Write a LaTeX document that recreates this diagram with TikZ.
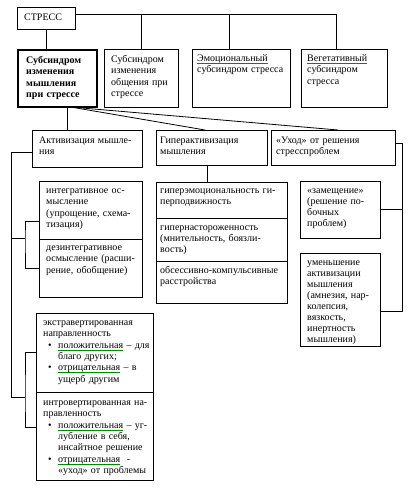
\documentclass[tikz,border=0pt]{standalone}
\usepackage{fontspec}
\setmainfont{Liberation Serif}
\usetikzlibrary{positioning, calc}

% spell-check mark and bullet lines
\newsavebox{\spellbox}
\newcommand{\spell}[1]{\sbox{\spellbox}{#1}%
	\rlap{\textcolor{green!55!black}{\raisebox{-2.2pt}{\rule{\wd\spellbox}{0.6pt}}}}\usebox{\spellbox}}
\newcommand{\bul}{\makebox[15pt][l]{\hspace{5pt}\textbullet}}
\newcommand{\cont}{\hspace*{15pt}}

\begin{document}
\begin{tikzpicture}[
		x=1pt, y=-1pt,
		frame/.style={draw, line width=0.8pt, anchor=north west, inner sep=0pt, outer sep=0pt},
		txt/.style={anchor=base west, inner sep=0pt, align=left, text width=200pt,
			font=\fontsize{10}{11.3}\selectfont},
		link/.style={line width=0.8pt}
		]
		\useasboundingbox (0,0) rectangle (419,492);
		
		% ==========================================
		% STRESS AND SUBSYNDROMES
		% ==========================================
		\node[frame, minimum width=58, minimum height=22] (stress) at (17,7) {};
		\node[txt] (stressT) at ([shift={(7,14)}]stress.north west) {СТРЕСС};
		
		\node[frame, line width=2.2pt, minimum width=79, minimum height=57] (s1) at (18,50) {};
		\node[txt, font=\fontsize{10}{11.3}\selectfont\bfseries] (s1T) at ([shift={(8,13.5)}]s1.north west)
		{Субсиндром\\изменения\\мышления\\при стрессе};
		
		\node[frame, minimum width=74, minimum height=58] (s2) at (104,49) {};
		\node[txt] (s2T) at ([shift={(7,13.5)}]s2.north west)
		{Субсиндром\\изменения\\общения при\\стрессе};
		
		\node[frame, minimum width=98, minimum height=58] (s3) at (192,49) {};
		\node[txt] (s3T) at ([shift={(5,12.5)}]s3.north west)
		{\spell{Эмоциональный}\\субсиндром стресса};
		
		\node[frame, minimum width=86, minimum height=58] (s4) at (301,49) {};
		\node[txt] (s4T) at ([shift={(6,12.5)}]s4.north west)
		{\spell{Вегетативный}\\субсиндром\\стресса};
		
		% ==========================================
		% THINKING CHANGES
		% ==========================================
		\node[frame, minimum width=110, minimum height=37] (actA) at (32,130) {};
		\node[txt] (actAT) at ([shift={(7,13)}]actA.north west) {Активизация мышле-\\ния};
		
		\node[frame, minimum width=111, minimum height=35] (actB) at (156,130) {};
		\node[txt] (actBT) at ([shift={(4,13)}]actB.north west) {Гиперактивизация\\мышления};
		
		\node[frame, minimum width=124, minimum height=35] (actC) at (271,130) {};
		\node[txt] (actCT) at ([shift={(5,13)}]actC.north west) {«Уход» от решения\\стресспроблем};
		
		% under activation
		\node[frame, minimum width=103, minimum height=58] (integ) at (39,181) {};
		\node[txt] (integT) at ([shift={(7,12.5)}]integ.north west)
		{интегративное ос-\\мысление\\(упрощение, схема-\\тизация)};
		\node[frame, minimum width=103, minimum height=58] (desint) at (39,239) {};
		\node[txt] (desintT) at ([shift={(7,11.5)}]desint.north west)
		{дезинтегративное\\осмысление (расши-\\рение, обобщение)};
		
		\node[frame, minimum width=117, minimum height=79] (extra) at (36,313) {};
		\node[txt] (extraT) at ([shift={(7,12.5)}]extra.north west)
		{экстравертированная\\направленность\\
			\bul\spell{положительная} – для\\\cont благо других;\\
			\bul\spell{отрицательная} – в\\\cont ущерб другим};
		\node[frame, minimum width=117, minimum height=88] (intro) at (36,392) {};
		\node[txt] (introT) at ([shift={(7,13.5)}]intro.north west)
		{интровертированная на-\\правленность\\
			\bul\spell{положительная} – уг-\\\cont лубление в себя,\\\cont инсайтное решение\\
			\bul\spell{отрицательная}\ \ -\\\cont «уход» от проблемы};
		
		% under hyperactivation
		\node[frame, minimum width=131, minimum height=36] (hyp1) at (156,182) {};
		\node[txt] (hyp1T) at ([shift={(4,11)}]hyp1.north west)
		{гиперэмоциональность ги-\\перподвижность};
		\node[frame, minimum width=131, minimum height=43] (hyp2) at (156,218) {};
		\node[txt] (hyp2T) at ([shift={(4,12)}]hyp2.north west)
		{гипернастороженность\\(мнительность, боязли-\\вость)};
		\node[frame, minimum width=131, minimum height=42] (hyp3) at (156,261) {};
		\node[txt] (hyp3T) at ([shift={(4,12)}]hyp3.north west)
		{обсессивно-компульсивные\\расстройства};
		
		% under withdrawal
		\node[frame, minimum width=80, minimum height=57] (zam) at (300,181) {};
		\node[txt] (zamT) at ([shift={(7,12)}]zam.north west)
		{«замещение»\\(решение по-\\бочных\\проблем)};
		\node[frame, minimum width=80, minimum height=93] (umen) at (300,253) {};
		\node[txt, font=\fontsize{10}{11}\selectfont] (umenT) at ([shift={(7,12.5)}]umen.north west)
		{уменьшение\\активизации\\мышления\\(амнезия, нар-\\колепсия,\\вязкость,\\инертность\\мышления)};
		
		% ==========================================
		% CONNECTORS
		% ==========================================
		\coordinate (bus) at ([yshift=4pt]stress.east);
		\draw[link] (bus) -| ([xshift=-8pt]s4.north);
		\draw[link] (s2.north) -- (s2.north |- bus);
		\draw[link] ([xshift=-12pt]s3.north) -- ([xshift=-12pt]s3.north |- bus);
		\draw[link] (stress.south) -- (stress.south |- s1.north);
		
		\draw[link] ([xshift=10pt]s1.south) -- ([xshift=10pt]s1.south |- actA.north);
		\draw[link] ([xshift=13pt]s1.south) -- ([xshift=-6.5pt]actB.north);
		\draw[link] ([xshift=13pt]s1.south) -- ([xshift=5pt]actC.north);
		
		\coordinate (spine) at ([xshift=-21pt,yshift=-3.5pt]actA.west);
		\coordinate (jA1) at (25,238);
		\coordinate (jA2) at (25,397);
		\draw[link] ([yshift=-3.5pt]actA.west) -- (spine) |- (jA2);
		\draw[link] (spine |- jA1) -- (jA1);
		\draw[link] ([yshift=-11pt]integ.west) -| (jA1) |- (desint.west);
		\draw[link] (extra.west) -| (jA2) |- ([yshift=9pt]intro.west);
		
		\draw[link] ([xshift=-4pt]actB.south) -- ([xshift=-4pt]actB.south |- hyp1.north);
		
		\coordinate (cbus) at ([xshift=7pt,yshift=4pt]actC.east);
		\draw[link] ([yshift=4pt]actC.east) -- (cbus) |- ([yshift=-11.5pt]umen.east);
		\draw[link] (zam.east) -- (zam.east -| cbus);
		
	\end{tikzpicture}
\end{document}
